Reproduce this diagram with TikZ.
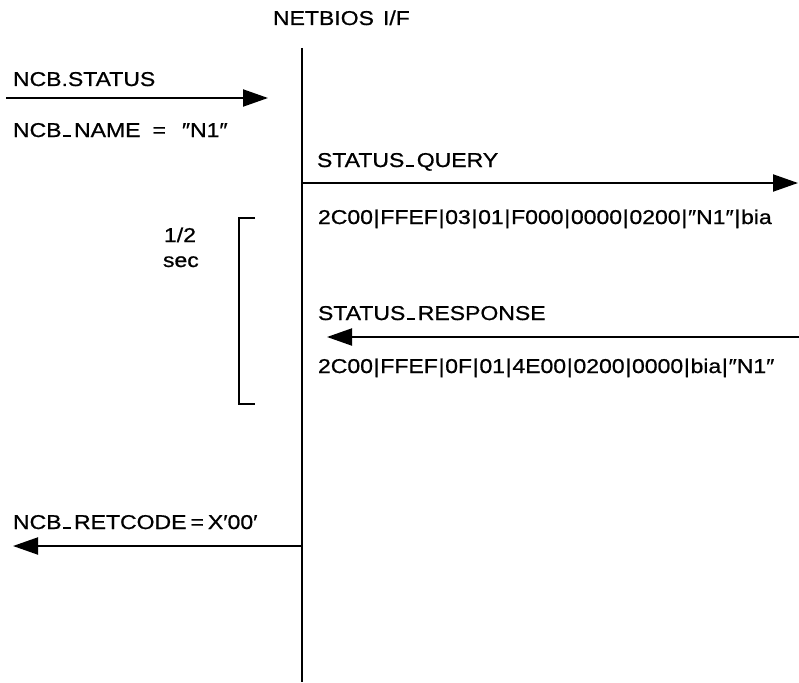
\documentclass[tikz,border=0pt]{standalone}
\usepackage{fontspec}
\setmainfont{Liberation Sans}[FakeStretch=1.15,FakeBold=0.8]
\usetikzlibrary{arrows.meta}

% short dash sitting on the baseline, as in NCB_NAME
\newcommand{\lowdash}{\hspace{1.5pt}\rule{8pt}{1.8pt}\hspace{3pt}}
% field separator in the frame dumps
\newcommand{\fsep}{\hspace{0.7pt}|\hspace{0.7pt}}

\tikzset{
  lbl/.style={anchor=base west, inner sep=0pt, outer sep=0pt,
              font=\fontsize{20pt}{24pt}\selectfont},
  lifeline/.style={line width=2pt},
  msg/.style={line width=2pt, -{Triangle[length=25pt,width=17pt]}},
  brk/.style={line width=1.6pt},
}

\begin{document}
\begin{tikzpicture}[x=1pt,y=-1pt]
\useasboundingbox (0,0) rectangle (799,682);

% interface lifeline
\node[lbl] (nb) at (273,25) {NETBIOS\hspace{9pt}I/F};
\coordinate (lt) at (302,48);
\coordinate (lb) at (302,682);
\draw[lifeline] (lt) -- (lb);

% NCB.STATUS issued by the application
\node[lbl] (ncbst) at (13,86) {NCB.STATUS};
\node[lbl] (ncbnm) at (13,137) {NCB\lowdash NAME\hspace{12pt}=\hspace{16pt}″N1″};
\coordinate (s0) at (6,98);
\coordinate (s1) at (268,98);
\draw[msg] (s0) -- (s1);

% STATUS_QUERY frame sent out
\node[lbl] (sq) at (317,167) {STATUS\lowdash QUERY};
\coordinate (q0) at (302,183);
\coordinate (q1) at (798,183);
\draw[msg] (q0) -- (q1);
\node[lbl] (hq) at (318,224)
  {2C00\fsep FFEF\fsep 03\fsep 01\fsep F000\fsep 0000\fsep 0200\fsep ″N1″\fsep bia};

% half-second timer bracket
\node[lbl] (half) at (164,242) {1/2};
\node[lbl] (sec) at (163,267) {sec};
\coordinate (b1) at (255,218);
\coordinate (b2) at (239,218);
\coordinate (b3) at (239,404);
\coordinate (b4) at (255,404);
\draw[brk] (b1) -- (b2) -- (b3) -- (b4);

% STATUS_RESPONSE frame received
\node[lbl] (sr) at (318,320) {STATUS\lowdash RESPONSE};
\coordinate (r0) at (799,337);
\coordinate (r1) at (327,337);
\draw[msg] (r0) -- (r1);
\node[lbl] (hr) at (318,373)
  {2C00\fsep FFEF\fsep 0F\fsep 01\fsep 4E00\fsep 0200\fsep 0000\fsep bia\fsep ″N1″};

% completion returned to the application
\node[lbl] (rc) at (13,529) {NCB\lowdash RETCODE\hspace{4pt}=\hspace{4pt}X′00′};
\coordinate (c0) at (302,546);
\coordinate (c1) at (13,546);
\draw[msg] (c0) -- (c1);
\end{tikzpicture}
\end{document}
